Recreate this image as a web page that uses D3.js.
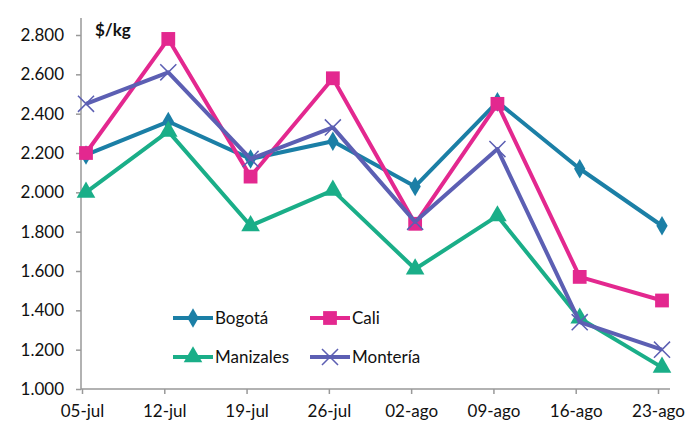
<!DOCTYPE html>
<html>
<head>
<meta charset="utf-8">
<script src="https://d3js.org/d3.v7.min.js"></script>
<style>
  body { margin: 0; background: #fff; }
  text { font-family: Lato, "Open Sans", sans-serif; fill: #111; }
</style>
</head>
<body>
<div id="chart"></div>
<script>
// semanas
let weeks = ["05-jul", "12-jul", "19-jul", "26-jul", "02-ago", "09-ago", "16-ago", "23-ago"];
let yTicks = [1000, 1200, 1400, 1600, 1800, 2000, 2200, 2400, 2600, 2800];

let bogota = [2190, 2360, 2170, 2260, 2030, 2460, 2120, 1830];
let cali = [2200, 2780, 2080, 2580, 1840, 2450, 1570, 1450];
let manizales = [2000, 2310, 1830, 2010, 1610, 1880, 1360, 1110];
let monteria = [2450, 2610, 2170, 2330, 1850, 2220, 1340, 1200];

let series = [
  {name: "Bogotá", values: bogota, color: "#1b7fa6", symbol: d3.symbolDiamond, size: 110},
  {name: "Cali", values: cali, color: "#e3288f", symbol: d3.symbolSquare, size: 190},
  {name: "Manizales", values: manizales, color: "#1aae88", symbol: d3.symbolTriangle, size: 150},
  {name: "Montería", values: monteria, color: "#5c5fb3", symbol: d3.symbolX, size: 170}
];

let svgWidth = 692;
let svgHeight = 426;

let svg = d3.select("#chart")
  .append("svg")
  .attr("width", svgWidth)
  .attr("height", svgHeight);

let xScale = d3.scalePoint()
  .domain(weeks)
  .range([86, 662]);

let yScale = d3.scaleLinear()
  .domain([1000, 2800])
  .range([389, 35]);

let fmt = d => d3.format(",")(d).replace(",", ".") + (d < 1000 ? "" : "");
let thousands = d => (d / 1000).toFixed(3);

// y axis
let yAxis = svg.append("g")
  .attr("transform", "translate(81,0)")
  .call(d3.axisLeft(yScale).tickValues(yTicks).tickSize(5).tickPadding(12).tickFormat(thousands));
yAxis.select(".domain").attr("stroke", "#999").attr("stroke-width", 1.5)
  .attr("d", "M0,18V389");
yAxis.selectAll(".tick line").attr("stroke", "#999").attr("stroke-width", 1.5);
yAxis.selectAll("text").style("font-size", "17px").style("font-family", "Lato, sans-serif").attr("fill", "#111");

// x axis (ticks a little to the left of the points, like the original)
let xAxis = svg.append("g")
  .attr("transform", "translate(-4,389)")
  .call(d3.axisBottom(xScale).tickSize(5).tickPadding(8));
xAxis.select(".domain").attr("stroke", "#999").attr("stroke-width", 1.5)
  .attr("d", "M85,0H674");
xAxis.selectAll(".tick line").attr("stroke", "#999").attr("stroke-width", 1.5);
xAxis.selectAll("text").style("font-size", "17px").style("font-family", "Lato, sans-serif").attr("fill", "#111")
  .attr("dy", "0.9em");

svg.append("text")
  .attr("x", 95)
  .attr("y", 36)
  .style("font-size", "17px")
  .style("font-weight", "bold")
  .text("$/kg");

let line = d3.line()
  .x((d, i) => xScale(weeks[i]))
  .y(d => yScale(d));

function drawMarker(g, s, x, y) {
  g.append("path")
    .attr("d", d3.symbol().type(s.symbol).size(s.size))
    .attr("transform", `translate(${x},${y})`)
    .attr("fill", s.color)
    .attr("stroke", s.color)
    .attr("stroke-width", s.symbol === d3.symbolX ? 1.5 : 0);
}

series.forEach(s => {
  let g = svg.append("g");
  g.append("path")
    .datum(s.values)
    .attr("fill", "none")
    .attr("stroke", s.color)
    .attr("stroke-width", 4)
    .attr("stroke-linejoin", "round")
    .attr("d", line);
  s.values.forEach((v, i) => drawMarker(g, s, xScale(weeks[i]), yScale(v)));
});

// legend
let legendPos = [[173, 318], [310, 318], [173, 357], [310, 357]];
series.forEach((s, i) => {
  let g = svg.append("g").attr("transform", `translate(${legendPos[i][0]},${legendPos[i][1]})`);
  g.append("line")
    .attr("x1", 0).attr("x2", 40)
    .attr("stroke", s.color).attr("stroke-width", 4);
  drawMarker(g, s, 20, 0);
  g.append("text")
    .attr("x", 42)
    .attr("y", 6)
    .style("font-size", "17px")
    .text(s.name);
});
</script>
</body>
</html>
